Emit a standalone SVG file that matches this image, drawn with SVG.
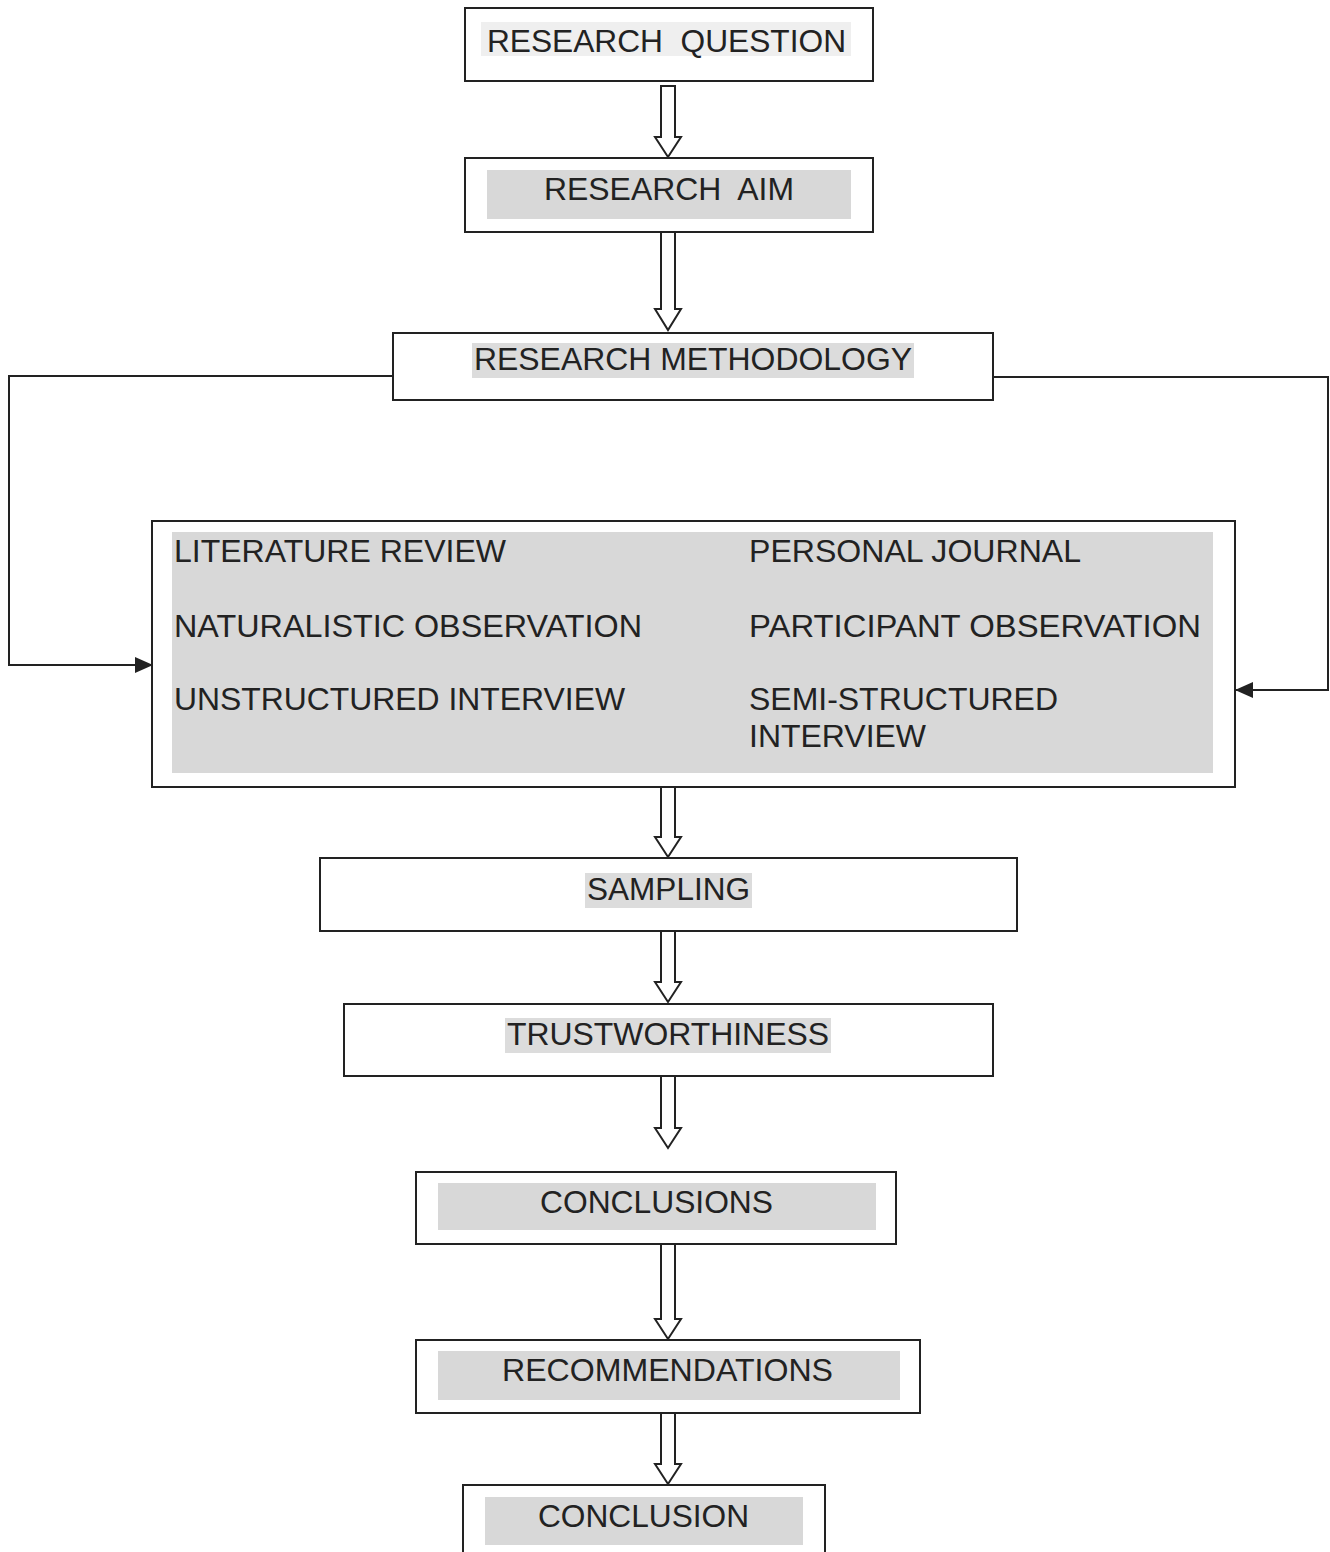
<svg xmlns="http://www.w3.org/2000/svg" width="1330" height="1552" viewBox="0 0 1330 1552">
  <style>
    .box{fill:#fff;stroke:#222;stroke-width:2}
    .fill{fill:#d8d8d8}
    .hl{fill:#dcdcdc}
    .hl2{fill:#efefef}
    .t{font-family:"Liberation Sans",Arial,sans-serif;font-size:32px;fill:#222}
    .blk{fill:#fff;stroke:#222;stroke-width:2;stroke-linejoin:miter}
    .ln{fill:none;stroke:#222;stroke-width:2}
  </style>
  <defs>
    <marker id="ah" markerWidth="18" markerHeight="16" refX="17" refY="8" orient="auto" markerUnits="userSpaceOnUse" viewBox="0 0 18 16">
      <path d="M0,0 L18,8 L0,16 z" fill="#222"/>
    </marker>
  </defs>
  <rect width="1330" height="1552" fill="#fff"/>

  <g id="connectors">
    <polygon class="blk" points="661,86 675,86 675,137 681,137 668,157 655,137 661,137"/>
    <polygon class="blk" points="661,232 675,232 675,309 681,309 668,330 655,309 661,309"/>
    <polygon class="blk" points="661,787 675,787 675,837 681,837 668,857 655,837 661,837"/>
    <polygon class="blk" points="661,931 675,931 675,982 681,982 668,1002 655,982 661,982"/>
    <polygon class="blk" points="661,1076 675,1076 675,1128 681,1128 668,1148 655,1128 661,1128"/>
    <polygon class="blk" points="661,1244 675,1244 675,1319 681,1319 668,1339 655,1319 661,1319"/>
    <polygon class="blk" points="661,1413 675,1413 675,1464 681,1464 668,1484 655,1464 661,1464"/>
    <path class="ln" d="M393,376 H9 V665 H152" marker-end="url(#ah)"/>
    <path class="ln" d="M993,377 H1328 V690 H1236" marker-end="url(#ah)"/>
  </g>

  <g id="research-question">
    <rect class="box" x="465" y="8" width="408" height="73"/>
    <rect class="hl2" x="481" y="22" width="370" height="34"/>
    <text class="t" x="487" y="52" textLength="359" lengthAdjust="spacingAndGlyphs" xml:space="preserve">RESEARCH  QUESTION</text>
  </g>

  <g id="research-aim">
    <rect class="box" x="465" y="158" width="408" height="74"/>
    <rect class="fill" x="487" y="170" width="364" height="49"/>
    <text class="t" x="544" y="200" textLength="250" lengthAdjust="spacingAndGlyphs" xml:space="preserve">RESEARCH  AIM</text>
  </g>

  <g id="research-methodology">
    <rect class="box" x="393" y="333" width="600" height="67"/>
    <rect class="hl" x="472" y="343" width="442" height="35"/>
    <text class="t" x="474" y="370" textLength="438" lengthAdjust="spacingAndGlyphs">RESEARCH METHODOLOGY</text>
  </g>

  <g id="methods">
    <rect class="box" x="152" y="521" width="1083" height="266"/>
    <rect class="fill" x="172" y="532" width="1041" height="241"/>
    <text class="t" x="174" y="562" textLength="332" lengthAdjust="spacingAndGlyphs">LITERATURE REVIEW</text>
    <text class="t" x="174" y="637" textLength="468" lengthAdjust="spacingAndGlyphs">NATURALISTIC OBSERVATION</text>
    <text class="t" x="174" y="710" textLength="451" lengthAdjust="spacingAndGlyphs">UNSTRUCTURED INTERVIEW</text>
    <text class="t" x="749" y="562" textLength="332" lengthAdjust="spacingAndGlyphs">PERSONAL JOURNAL</text>
    <text class="t" x="749" y="637" textLength="452" lengthAdjust="spacingAndGlyphs">PARTICIPANT OBSERVATION</text>
    <text class="t" x="749" y="710" textLength="309" lengthAdjust="spacingAndGlyphs">SEMI-STRUCTURED</text>
    <text class="t" x="749" y="747" textLength="177" lengthAdjust="spacingAndGlyphs">INTERVIEW</text>
  </g>

  <g id="sampling">
    <rect class="box" x="320" y="858" width="697" height="73"/>
    <rect class="hl" x="585" y="873" width="167" height="35"/>
    <text class="t" x="587" y="900" textLength="163" lengthAdjust="spacingAndGlyphs">SAMPLING</text>
  </g>

  <g id="trustworthiness">
    <rect class="box" x="344" y="1004" width="649" height="72"/>
    <rect class="hl" x="505" y="1018" width="326" height="35"/>
    <text class="t" x="507" y="1045" textLength="322" lengthAdjust="spacingAndGlyphs">TRUSTWORTHINESS</text>
  </g>

  <g id="conclusions">
    <rect class="box" x="416" y="1172" width="480" height="72"/>
    <rect class="fill" x="438" y="1183" width="438" height="47"/>
    <text class="t" x="540" y="1213" textLength="233" lengthAdjust="spacingAndGlyphs">CONCLUSIONS</text>
  </g>

  <g id="recommendations">
    <rect class="box" x="416" y="1340" width="504" height="73"/>
    <rect class="fill" x="438" y="1351" width="462" height="49"/>
    <text class="t" x="502" y="1381" textLength="331" lengthAdjust="spacingAndGlyphs">RECOMMENDATIONS</text>
  </g>

  <g id="conclusion">
    <rect class="box" x="463" y="1485" width="362" height="80"/>
    <rect class="fill" x="485" y="1497" width="318" height="48"/>
    <text class="t" x="538" y="1527" textLength="211" lengthAdjust="spacingAndGlyphs">CONCLUSION</text>
  </g>
</svg>
